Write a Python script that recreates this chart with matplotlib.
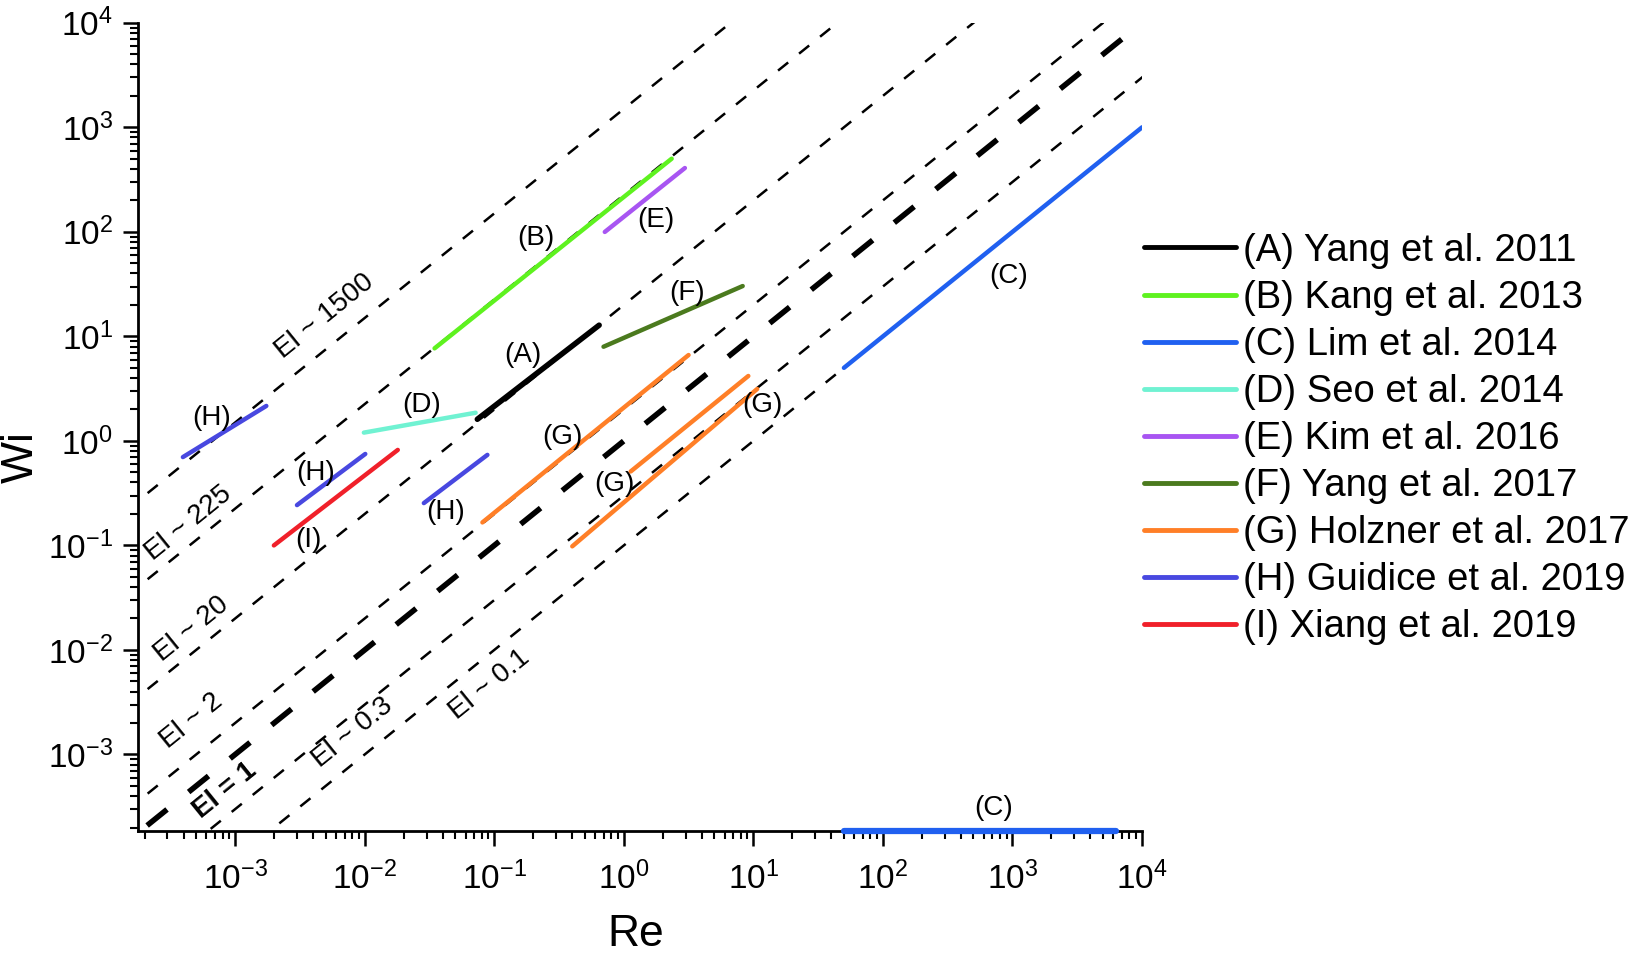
import numpy as np
import matplotlib
matplotlib.use("Agg")
import matplotlib.pyplot as plt
import matplotlib.patheffects as pe

plt.rcParams['font.family'] = ['Liberation Sans', 'DejaVu Sans']
plt.rcParams['mathtext.fontset'] = 'custom'
plt.rcParams['mathtext.rm'] = 'Liberation Sans'
plt.rcParams['mathtext.it'] = 'Liberation Sans:italic'
plt.rcParams['mathtext.bf'] = 'Liberation Sans:bold'

# El = Wi / Re reference lines
el_values = [1500, 225, 20, 2, 1, 0.3, 0.1]
el_labels = ["El ~ 1500", "El ~ 225", "El ~ 20", "El ~ 2", "El = 1", "El ~ 0.3", "El ~ 0.1"]
el_label_re = [4.89e-3, 4.39e-4, 4.57e-4, 4.64e-4, 8.4e-4, 8.12e-3, 0.092]
el_label_wi = [15.6, 0.163, 0.0159, 2.08e-3, 4.5e-4, 1.61e-3, 4.62e-3]
re_span = np.array([1e-4, 1e5])

# data ranges from the studies (Re, Wi end points)
names = ["(A) Yang et al. 2011", "(B) Kang et al. 2013", "(C) Lim et al. 2014",
         "(D) Seo et al. 2014", "(E) Kim et al. 2016", "(F) Yang et al. 2017",
         "(G) Holzner et al. 2017", "(H) Guidice et al. 2019", "(I) Xiang et al. 2019"]
colors = ["#000000", "#5ef21f", "#2060f0", "#70f2d2", "#a855f2", "#4b7a1e",
          "#ff7f27", "#4848e0", "#f0202a"]

A_re = [0.074, 0.645];   A_wi = [1.61, 12.8]
B_re = [0.0346, 2.34];   B_wi = [7.68, 501]
C_re = [50, 1e4];        C_wi = [5.0, 1000]
C2_re = [50, 6250]       # Wi ~ 0, drawn on the axis
D_re = [0.00985, 0.0718]; D_wi = [1.2, 1.86]
E_re = [0.713, 2.96];    E_wi = [99.8, 408]
F_re = [0.697, 8.27];    F_wi = [7.96, 30.3]
G1_re = [0.081, 3.16];   G1_wi = [0.166, 6.63]
G2_re = [1.13, 9.14];    G2_wi = [0.51, 4.18]
G3_re = [0.40, 10.7];    G3_wi = [0.098, 3.14]
H1_re = [3.95e-4, 1.74e-3]; H1_wi = [0.70, 2.16]
H2_re = [3.0e-3, 0.0101];   H2_wi = [0.243, 0.75]
H3_re = [0.0286, 0.0885];   H3_wi = [0.254, 0.735]
I_re = [1.99e-3, 0.018];    I_wi = [0.1, 0.82]

# point labels
tag_text = ["(A)", "(B)", "(C)", "(C)", "(D)", "(E)", "(F)", "(G)", "(G)", "(G)",
            "(H)", "(H)", "(H)", "(I)"]
tag_re = [0.165, 0.209, 930, 709, 0.0273, 1.77, 3.1, 0.336, 0.85, 11.8,
          6.6e-4, 4.17e-3, 0.042, 3.66e-3]
tag_wi = [6.63, 88, 38, 3.05e-4, 2.2, 129, 25.8, 1.09, 0.39, 2.2,
          1.65, 0.498, 0.211, 0.113]

xmin, xmax = 1.78e-4, 1e4
ymin, ymax = 1.85e-4, 1e4

fig = plt.figure(figsize=(16.28, 9.58), dpi=100)
ax = fig.add_axes([0.0848, 0.1325, 0.6167, 0.8437])
ax.set_xscale("log")
ax.set_yscale("log")

for el in el_values:
    if el == 1:
        ax.plot(re_span, el * re_span, color="black", lw=4, dashes=(4.6, 5.0), zorder=1)
    else:
        ax.plot(re_span, el * re_span, color="black", lw=1.8, dashes=(5.2, 5.6), zorder=1)

for txt, x, y in zip(el_labels, el_label_re, el_label_wi):
    ax.text(x, y, txt, rotation=39, ha="center", va="center", fontsize=20,
            fontweight="bold" if "=" in txt else "normal", zorder=3)

lw = 3.2
ax.plot(A_re, A_wi, color=colors[0], lw=4, solid_capstyle="round", zorder=2, label=names[0])
ax.plot(B_re, B_wi, color=colors[1], lw=lw, solid_capstyle="round", zorder=2, label=names[1])
ax.plot(C_re, C_wi, color=colors[2], lw=lw, solid_capstyle="round", zorder=2, label=names[2])
ax.plot(C2_re, [ymin, ymin], color=colors[2], lw=4.5, solid_capstyle="round", zorder=4,
        clip_on=False)
ax.plot(D_re, D_wi, color=colors[3], lw=lw, solid_capstyle="round", zorder=2, label=names[3])
ax.plot(E_re, E_wi, color=colors[4], lw=lw, solid_capstyle="round", zorder=2, label=names[4])
ax.plot(F_re, F_wi, color=colors[5], lw=lw, solid_capstyle="round", zorder=2, label=names[5],
        path_effects=[pe.Stroke(linewidth=lw + 1.5, foreground="#eef0a0"), pe.Normal()])
ax.plot(G1_re, G1_wi, color=colors[6], lw=lw, solid_capstyle="round", zorder=2, label=names[6])
ax.plot(G2_re, G2_wi, color=colors[6], lw=lw, solid_capstyle="round", zorder=2)
ax.plot(G3_re, G3_wi, color=colors[6], lw=lw, solid_capstyle="round", zorder=2)
ax.plot(H1_re, H1_wi, color=colors[7], lw=lw, solid_capstyle="round", zorder=2, label=names[7])
ax.plot(H2_re, H2_wi, color=colors[7], lw=lw, solid_capstyle="round", zorder=2)
ax.plot(H3_re, H3_wi, color=colors[7], lw=lw, solid_capstyle="round", zorder=2)
ax.plot(I_re, I_wi, color=colors[8], lw=lw, solid_capstyle="round", zorder=2, label=names[8])

for txt, x, y in zip(tag_text, tag_re, tag_wi):
    ax.text(x, y, txt, ha="center", va="center", fontsize=20, zorder=3)

ax.set_xlim(xmin, xmax)
ax.set_ylim(ymin, ymax)
ax.set_xticks([1e-3, 1e-2, 1e-1, 1, 10, 100, 1000, 1e4])
ax.set_yticks([1e-3, 1e-2, 1e-1, 1, 10, 100, 1000, 1e4])
ax.spines["top"].set_visible(False)
ax.spines["right"].set_visible(False)
ax.spines["left"].set_linewidth(2)
ax.spines["bottom"].set_linewidth(2)
ax.tick_params(which="major", direction="out", length=11, width=1.8, labelsize=24)
ax.tick_params(axis="x", which="major", pad=11)
ax.tick_params(axis="y", which="major", pad=7)
ax.tick_params(which="minor", direction="out", length=6, width=1.5)
ax.set_xlabel("Re", fontsize=32, va="center")
ax.set_ylabel("Wi", fontsize=32, va="center")
ax.xaxis.set_label_coords(0.496, -0.128)
ax.yaxis.set_label_coords(-0.1167, 0.463)

handles, labels = ax.get_legend_handles_labels()
for h in handles:
    h.set_path_effects([])
leg = fig.legend(handles, labels, loc="upper left", bbox_to_anchor=(0.7027, 0.757),
                 frameon=False, fontsize=27.5, handlelength=2.4, handletextpad=0.2,
                 labelspacing=0.29, borderpad=0, borderaxespad=0)
for line in leg.get_lines():
    line.set_linewidth(3.5)

fig.savefig("out.png", dpi=100)
